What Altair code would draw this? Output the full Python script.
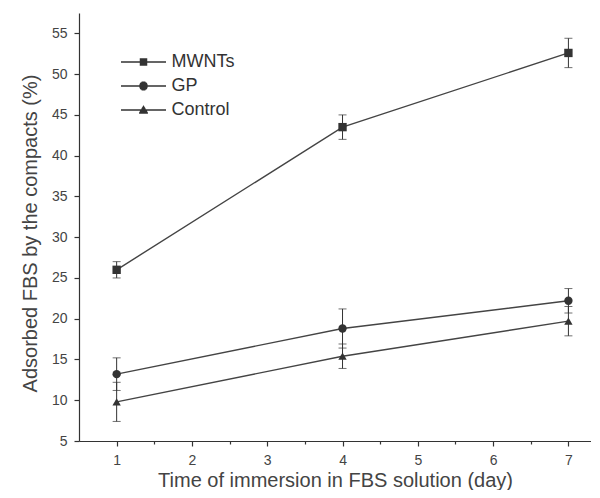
import altair as alt
import pandas as pd
import math

# ---- data ----
days = [1, 4, 7]
series = ["MWNTs", "GP", "Control"]
mwnts = [26.0, 43.5, 52.6]
mwnts_err = [1.0, 1.5, 1.8]
gp = [13.2, 18.8, 22.2]
gp_err = [2.0, 2.4, 1.5]
control = [9.8, 15.4, 19.7]
control_err = [2.4, 1.5, 1.8]

x_ticks = [1, 1.5, 2, 2.5, 3, 3.5, 4, 4.5, 5, 5.5, 6, 6.5, 7]
y_ticks = [5, 7.5, 10, 12.5, 15, 17.5, 20, 22.5, 25, 27.5, 30, 32.5, 35,
           37.5, 40, 42.5, 45, 47.5, 50, 52.5, 55, 57.5]
x_domain = [0.5, 7.3]
y_domain = [5, 57.5]

shapes = ["square", "circle", "triangle-up"]


# legend symbols: line segment + solid (hatched) marker, in symbol units
def _hatch(halfwidth):
    parts = ["M-3,0H3"]
    y = -0.6
    while y <= 0.6001:
        w = halfwidth(y)
        if w > 0.02:
            parts.append(f"M{-w:.3f},{y:.3f}H{w:.3f}")
        y += 0.1
    return "".join(parts)


legend_paths = [
    _hatch(lambda y: 0.5 if abs(y) <= 0.45 else 0),
    _hatch(lambda y: math.sqrt(max(0.0, 0.56 ** 2 - y ** 2)) if abs(y) <= 0.5 else 0),
    _hatch(lambda y: 0.62 * (y + 0.6) / 1.05 if -0.55 <= y <= 0.45 else 0),
]

rows = []
for name, vals, errs in [("MWNTs", mwnts, mwnts_err), ("GP", gp, gp_err),
                         ("Control", control, control_err)]:
    for d, v, e in zip(days, vals, errs):
        rows.append({"day": d, "series": name, "value": v,
                     "lo": v - e, "hi": v + e})
df = pd.DataFrame(rows)

INK = "#333333"
FONT = "Liberation Sans"

x_enc = alt.X(
    "day:Q",
    scale=alt.Scale(domain=x_domain, nice=False, zero=False),
    axis=alt.Axis(
        values=x_ticks,
        title="Time of immersion in FBS solution (day)",
        labelExpr="datum.value % 1 === 0 ? format(datum.value, 'd') : ''",
        tickSize={"condition": {"test": "datum.value % 1 === 0", "value": 5}, "value": 3},
        grid=False, labelOverlap=False, labelFlush=False,
        labelPadding=7, titlePadding=3,
    ),
)
y_enc = alt.Y(
    "value:Q",
    scale=alt.Scale(domain=y_domain, nice=False, zero=False),
    axis=alt.Axis(
        values=y_ticks,
        title="Adsorbed FBS by the compacts (%)",
        labelExpr="datum.value % 5 === 0 ? format(datum.value, 'd') : ''",
        tickSize={"condition": {"test": "datum.value % 5 === 0", "value": 5}, "value": 3},
        grid=False, labelOverlap=False, labelFlush=False,
        labelPadding=7, titlePadding=11, titleY=220,
    ),
)

base = alt.Chart(df)

lines = base.mark_line(color="#444444", strokeWidth=1.4).encode(
    x=x_enc, y=y_enc, detail="series:N"
)

err = base.mark_rule(color=INK, strokeWidth=1).encode(
    x="day:Q", y="lo:Q", y2="hi:Q"
)

caps = base.transform_fold(["lo", "hi"], as_=["which", "cap"]).mark_tick(
    orient="horizontal", color=INK, size=8, thickness=1
).encode(x="day:Q", y="cap:Q")

point_layers = []
for name, shp in zip(series, shapes):
    point_layers.append(
        base.transform_filter(alt.datum.series == name)
        .mark_point(filled=True, opacity=1, color=INK, size=70, shape=shp)
        .encode(x="day:Q", y="value:Q")
    )

legend_layer = alt.Chart(pd.DataFrame({"name": series})).mark_point(
    opacity=0, filled=False, color=INK, strokeWidth=1.3
).encode(
    shape=alt.Shape(
        "name:N",
        scale=alt.Scale(domain=series, range=legend_paths),
        legend=alt.Legend(
            title=None, orient="none", legendX=55.5, legendY=40,
            symbolSize=225, symbolStrokeColor=INK,
            symbolStrokeWidth=1.3, symbolOpacity=1,
            labelFont=FONT, labelFontSize=18, labelColor=INK,
            labelOffset=19, rowPadding=6, padding=0,
        ),
    )
)

chart = alt.layer(lines, err, caps, *point_layers, legend_layer).properties(
    width=512, height=428,
    padding={"left": 71, "top": 5, "right": 0, "bottom": 49},
    autosize=alt.AutoSizeParams(type="none"),
).configure_view(stroke=None).configure_axis(
    domainColor=INK, tickColor=INK, domainWidth=1.2, tickWidth=1.2,
    labelFont=FONT, labelFontSize=14, labelColor="#444444",
    titleFont=FONT, titleFontSize=20, titleFontWeight="normal", titleColor="#444444",
)

chart.save("out.html", embed_options={"renderer": "svg", "actions": False})
